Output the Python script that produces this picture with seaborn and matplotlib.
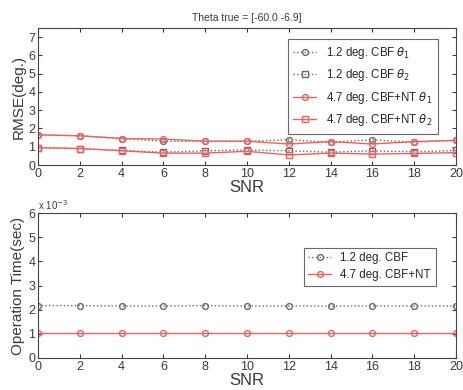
import matplotlib
matplotlib.use("Agg")
import matplotlib.pyplot as plt
import seaborn as sns
import numpy as np

snr = [0, 2, 4, 6, 8, 10, 12, 14, 16, 18, 20]

cbf_theta1 = [1.65, 1.60, 1.45, 1.30, 1.30, 1.30, 1.38, 1.25, 1.38, 1.25, 1.35]
cbf_theta2 = [0.95, 0.90, 0.80, 0.70, 0.78, 0.82, 0.78, 0.70, 0.78, 0.72, 0.80]
nt_theta1 = [1.65, 1.60, 1.45, 1.42, 1.30, 1.30, 1.15, 1.28, 1.15, 1.28, 1.35]
nt_theta2 = [0.95, 0.90, 0.78, 0.65, 0.65, 0.75, 0.55, 0.65, 0.60, 0.63, 0.68]

cbf_time = [2.17e-3, 2.17e-3, 2.15e-3, 2.15e-3, 2.17e-3, 2.15e-3, 2.15e-3, 2.15e-3, 2.15e-3, 2.15e-3, 2.15e-3]
nt_time = [1.05e-3] * 11

rmse_labels = [r"1.2 deg. CBF $\theta_1$", r"1.2 deg. CBF $\theta_2$",
               r"4.7 deg. CBF+NT $\theta_1$", r"4.7 deg. CBF+NT $\theta_2$"]
time_labels = ["1.2 deg. CBF", "4.7 deg. CBF+NT"]

sns.set_style("white")
plt.rcParams["font.family"] = ["Liberation Sans", "DejaVu Sans"]
plt.rcParams["mathtext.fontset"] = "dejavusans"

gray = "#6a6a6a"
red = "#f06060"
ink = "#3a3a3a"

fig = plt.figure(figsize=(4.64, 3.90), dpi=100)
ax1 = fig.add_axes([38 / 464, 1 - 165 / 390, 418 / 464, 137 / 390])
ax2 = fig.add_axes([38 / 464, 1 - 358 / 390, 418 / 464, 145 / 390])

styles = [
    (cbf_theta1, gray, ":", "o"),
    (cbf_theta2, gray, ":", "s"),
    (nt_theta1, red, "-", "o"),
    (nt_theta2, red, "-", "s"),
]
for (vals, col, ls, mk), lab in zip(styles, rmse_labels):
    sns.lineplot(x=snr, y=vals, ax=ax1, color=col, linestyle=ls, marker=mk,
                 markersize=4.2, markerfacecolor="none", markeredgecolor=col,
                 markeredgewidth=1.0, linewidth=1.0, label=lab)

for vals, col, ls, lab in [(cbf_time, gray, ":", time_labels[0]),
                           (nt_time, red, "-", time_labels[1])]:
    sns.lineplot(x=snr, y=vals, ax=ax2, color=col, linestyle=ls, marker="o",
                 markersize=4.2, markerfacecolor="none", markeredgecolor=col,
                 markeredgewidth=1.0, linewidth=1.0, label=lab)

for ax in (ax1, ax2):
    ax.set_xlim(0, 20)
    ax.set_xticks(range(0, 21, 2))
    ax.tick_params(direction="in", length=3, labelsize=9, top=True, right=True,
                   bottom=True, left=True, colors=ink, labelcolor=ink, pad=2)
    for sp in ax.spines.values():
        sp.set_color("#444444")
        sp.set_linewidth(0.8)
    ax.set_xlabel("SNR", fontsize=12, labelpad=0, color=ink)

ax1.set_ylim(0, 7.5)
ax1.set_yticks(range(0, 8))
ax1.set_ylabel("RMSE(deg.)", fontsize=11, labelpad=2, color=ink)
ax1.set_title("Theta true = [-60.0 -6.9]", fontsize=7.5, pad=5, color=ink)

ax2.set_ylim(0, 6e-3)
ax2.set_yticks(np.arange(0, 7) * 1e-3)
ax2.set_yticklabels([str(i) for i in range(7)])
ax2.set_ylabel("Operation Time(sec)", fontsize=11, labelpad=2, color=ink)
ax2.text(0.0, 1.01, r"x 10$^{-3}$", transform=ax2.transAxes, fontsize=7,
         color=ink, ha="left", va="bottom")

leg1 = ax1.legend(loc="upper right", fontsize=8.3, frameon=True, fancybox=False,
                  edgecolor="#444444", handlelength=2.0, borderpad=0.5,
                  labelspacing=0.55, bbox_to_anchor=(0.97, 0.96))
leg1.get_frame().set_linewidth(0.8)
leg2 = ax2.legend(loc="upper right", fontsize=8.3, frameon=True, fancybox=False,
                  edgecolor="#444444", handlelength=2.0, borderpad=0.4,
                  labelspacing=0.4, bbox_to_anchor=(0.965, 0.80))
leg2.get_frame().set_linewidth(0.8)

fig.savefig("out.png", dpi=100)
